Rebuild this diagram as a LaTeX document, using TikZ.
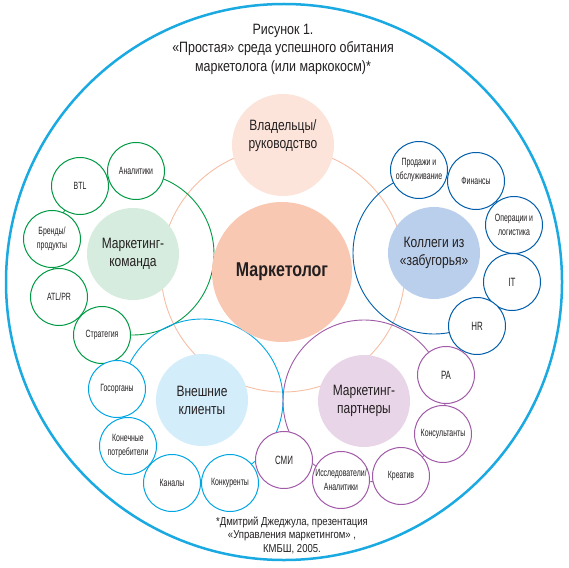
\documentclass[tikz,border=0pt]{standalone}
\usepackage{fontspec}
\setmainfont{Liberation Sans}
\newfontfamily\titlefont{Liberation Sans}[FakeStretch=0.83]
\newfontfamily\midfont{Liberation Sans}[FakeStretch=0.8]
\newfontfamily\smallfont{Liberation Sans}[FakeStretch=0.66]
\definecolor{outerc}{RGB}{27,169,226}
\definecolor{greenc}{RGB}{0,154,68}
\definecolor{bluec}{RGB}{0,94,170}
\definecolor{cyanc}{RGB}{0,166,228}
\definecolor{purplec}{RGB}{160,90,168}
\definecolor{ringc}{RGB}{247,190,165}
\definecolor{markf}{RGB}{249,200,178}
\definecolor{vladf}{RGB}{252,228,218}
\definecolor{teamf}{RGB}{214,236,222}
\definecolor{collf}{RGB}{185,207,235}
\definecolor{extf}{RGB}{211,237,250}
\definecolor{partf}{RGB}{232,214,232}
\definecolor{txt}{RGB}{35,31,32}
\tikzset{
  group/.style={circle, inner sep=0pt, minimum size=162pt, line width=0.9pt},
  fillc/.style={circle, inner sep=0pt, minimum size=92pt, align=center, text=txt,
    font=\midfont\fontsize{15}{18}\selectfont},
  smallc/.style={circle, inner sep=0pt, minimum size=57pt, fill=white, line width=1pt,
    align=center, text=txt, font=\smallfont\fontsize{10.5}{14}\selectfont},
  bigc/.style={smallc, font=\smallfont\fontsize{12}{14}\selectfont},
}
\begin{document}
\begin{tikzpicture}[x=1pt,y=-1pt]
\useasboundingbox (0,0) rectangle (569,567);
% outer circle
\node[circle, draw=outerc, line width=2.5pt, minimum size=556pt, inner sep=0pt] (outer) at (284,282) {};
% title
\node[align=center, text=txt, font=\titlefont\fontsize{15}{18.5}\selectfont] (title) at (283,49)
  {Рисунок 1.\\«Простая» среда успешного обитания\\маркетолога (или маркокосм)*};
% ring
\node[circle, draw=ringc, line width=0.9pt, minimum size=244pt, inner sep=0pt] (ring) at (283,270) {};
% group circles
\node[group, draw=greenc] (gteam) at (133,254) {};
\node[group, draw=bluec] (gcoll) at (434,253) {};
\node[group, draw=cyanc] (gext) at (202,400) {};
\node[group, draw=purplec] (gpart) at (364,401) {};
% filled circles
\node[fillc, fill=vladf, minimum size=102pt, text depth=0pt] (vlad) at (283,145) {Владельцы/\\руководство\\[3pt]};
\node[fillc, fill=teamf] (team) at (133,254) {Маркетинг-\\команда};
\node[fillc, fill=collf] (coll) at (434,253) {Коллеги из\\«забугорья»};
\node[fillc, fill=extf] (ext) at (202,400) {Внешние\\клиенты};
\node[fillc, fill=partf] (part) at (364,401) {Маркетинг-\\партнеры};
\node[circle, inner sep=0pt, minimum size=140pt, fill=markf, text=txt,
  font=\midfont\bfseries\fontsize{20}{22}\selectfont] (mark) at (282,272) {Маркетолог};
% green small circles
\node[smallc, draw=greenc] (ana) at (136,171) {Аналитики};
\node[smallc, draw=greenc] (btl) at (80,186) {BTL};
\node[smallc, draw=greenc] (brand) at (52,239) {Бренды/\\продукты};
\node[smallc, draw=greenc] (atl) at (59,297) {ATL/PR};
\node[smallc, draw=greenc] (strat) at (102,335) {Стратегия};
% blue small circles
\node[smallc, draw=bluec] (sales) at (419,170) {Продажи и\\обслуживание};
\node[smallc, draw=bluec] (fin) at (476,181) {Финансы};
\node[smallc, draw=bluec] (ops) at (514,225) {Операции и\\логистика};
\node[bigc, draw=bluec] (it) at (512,282) {IT};
\node[bigc, draw=bluec] (hr) at (477,326) {HR};
% cyan small circles
\node[smallc, draw=cyanc] (gos) at (117,389) {Госорганы};
\node[smallc, draw=cyanc] (kon) at (128,446) {Конечные\\потребители};
\node[smallc, draw=cyanc] (kan) at (172,483) {Каналы};
\node[smallc, draw=cyanc] (konk) at (230,483) {Конкуренты};
% purple small circles
\node[bigc, draw=purplec] (smi) at (284,460) {СМИ};
\node[smallc, draw=purplec] (issl) at (341,480) {Исследователи/\\Аналитики};
\node[smallc, draw=purplec] (kreat) at (401,476) {Креатив};
\node[smallc, draw=purplec] (cons) at (443,434) {Консультанты};
\node[bigc, draw=purplec] (pa) at (446,375) {PA};
% footnote
\node[align=center, text=txt, font=\titlefont\fontsize{11.5}{13.5}\selectfont] (foot) at (292,535)
  {*Дмитрий Джеджула, презентация\\«Управления маркетингом» ,\\КМБШ, 2005.};
\end{tikzpicture}
\end{document}
